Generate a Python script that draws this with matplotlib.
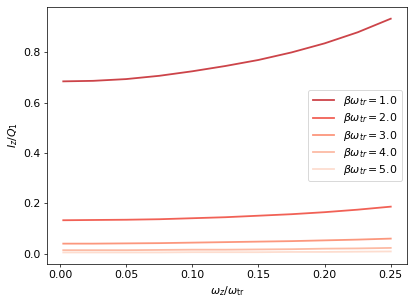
import numpy as np
import matplotlib
matplotlib.use('Agg')
import matplotlib.pyplot as plt

# omega_z / omega_tr sample points and I_z/Q_1
wz = [0.0025, 0.025, 0.05, 0.075, 0.10, 0.125, 0.15, 0.175, 0.20, 0.225, 0.25]
beta_w = [1.0, 2.0, 3.0, 4.0, 5.0]
iz_b1 = [0.685, 0.687, 0.694, 0.707, 0.725, 0.746, 0.770, 0.800, 0.836, 0.880, 0.934]
iz_b2 = [0.133, 0.134, 0.135, 0.137, 0.141, 0.145, 0.151, 0.157, 0.165, 0.175, 0.187]
iz_b3 = [0.040, 0.040, 0.041, 0.042, 0.044, 0.046, 0.048, 0.050, 0.053, 0.056, 0.060]
iz_b4 = [0.014, 0.014, 0.014, 0.015, 0.016, 0.016, 0.017, 0.018, 0.020, 0.021, 0.023]
iz_b5 = [0.005, 0.005, 0.005, 0.005, 0.006, 0.006, 0.006, 0.007, 0.007, 0.008, 0.009]
all_iz = [iz_b1, iz_b2, iz_b3, iz_b4, iz_b5]

colors = ['#c0151c', '#ee3a2c', '#fb7d5d', '#fcaa8e', '#fdd5c4']

plt.rcParams['font.size'] = 12
fig = plt.figure(figsize=(415 / 65, 305 / 65), dpi=65)
ax = fig.add_subplot(111)
for b, iz, c in zip(beta_w, all_iz, colors):
    ax.plot(wz, iz, color=c, alpha=0.8, lw=2, label=r'$\beta\omega_{tr} = %.1f$' % b)

ax.set_xlabel(r'$\omega_z/\omega_{\rm tr}$', fontsize=12)
ax.set_ylabel(r'$I_z/Q_1$', fontsize=12)
ax.set_xticks([0.0, 0.05, 0.10, 0.15, 0.20, 0.25])
ax.tick_params(labelsize=12)
ax.legend(loc='center right', fontsize=12, handlelength=2.0, labelspacing=0.3)
fig.subplots_adjust(left=0.113, right=0.981, top=0.977, bottom=0.134)
fig.savefig('out.png', dpi=65)
